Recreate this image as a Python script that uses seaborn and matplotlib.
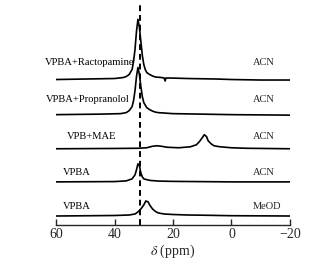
import numpy as np
import pandas as pd
import matplotlib
matplotlib.use("Agg")
import matplotlib.pyplot as plt
import matplotlib.transforms as mtransforms
import seaborn as sns

# Spectra: chemical shift (ppm) and signal height
ract_ppm = [60, 50, 40, 37, 36, 35, 34, 33.5, 33, 32.5, 32, 31.5, 31, 30.5, 30, 29.5, 29, 28, 27, 26, 24, 23, 22.7, 22.4, 21, 15, 5, 0, -10, -20]
ract_int = [0, 0.5, 1, 2, 3, 5, 10, 18, 30, 48, 60, 52, 38, 24, 15, 10, 7, 5, 3.5, 2.5, 2, 1.5, -1.5, 1.5, 1.5, 1, 0.5, 0, -0.5, -0.5]

prop_ppm = [60, 45, 38, 36, 35, 34, 33.5, 33, 32.5, 32, 31.5, 31, 30.5, 30, 29, 28, 27, 26, 25, 20, 10, 0, -20]
prop_int = [0, 0.5, 1, 2, 4, 8, 14, 24, 38, 47, 40, 28, 18, 12, 7, 5, 3.5, 2.5, 2, 1, 0.5, 0, -0.5]

mae_ppm = [60, 40, 32, 29, 27, 25.5, 24, 22, 18, 14, 12, 11, 10, 9.3, 8.5, 8, 7, 6, 4, 0, -5, -20]
mae_int = [0, 0.3, 0.5, 1, 2.5, 3, 2.5, 1.5, 1, 2, 4, 7, 11, 14, 12, 8, 5, 3, 2, 1, 0.5, 0]

acn_ppm = [60, 40, 36, 34, 33, 32.5, 32, 31.5, 31, 30.5, 30, 28, 25, 20, 0, -20]
acn_int = [0, 0.3, 1, 3, 7, 12, 18, 16, 9, 5, 3, 1.5, 0.8, 0.5, 0, 0]

meod_ppm = [60, 40, 35, 33, 32, 31, 30, 29.3, 28.5, 28, 27, 26, 25, 23, 20, 15, 10, 0, -20]
meod_int = [0, 0.5, 1, 2, 4, 7, 11, 15, 14, 11, 7, 4.5, 3, 2, 1.5, 1, 0.8, 0.3, 0]

left_labels = ["VPBA+Ractopamine", "VPBA+Propranolol", "VPB+MAE", "VPBA", "VPBA"]
right_labels = ["ACN", "ACN", "ACN", "ACN", "MeOD"]
ref_shift = 31.3

traces = [(ract_ppm, ract_int), (prop_ppm, prop_int), (mae_ppm, mae_int),
          (acn_ppm, acn_int), (meod_ppm, meod_int)]
offsets = [145, 110, 76, 43, 9]
label_y = [162, 125, 88, 52, 18]
label_x = [0.137, 0.140, 0.204, 0.192, 0.192]

sns.set_style("ticks")
plt.rcParams['font.family'] = ['Liberation Serif', 'DejaVu Serif']
plt.rcParams['mathtext.fontset'] = 'stix'

fig = plt.figure(figsize=(3.28, 2.66), dpi=100)
ax = fig.add_axes([0.171, 0.154, 0.713, 0.83])

for (ppm, inten), off in zip(traces, offsets):
    df = pd.DataFrame({"ppm": ppm, "y": np.array(inten) + off})
    sns.lineplot(data=df, x="ppm", y="y", ax=ax, color="black", lw=1.2, estimator=None)

ax.axvline(ref_shift, color="black", ls=(0, (3, 2)), lw=1.4)

trans = mtransforms.blended_transform_factory(fig.transFigure, ax.transData)
for lab, y, lx in zip(left_labels, label_y, label_x):
    ax.text(lx, y, lab, transform=trans, fontsize=7.6,
            color="black", va="center", ha="left")
for lab, y in zip(right_labels, label_y):
    ax.text(0.772, y, lab, transform=trans, fontsize=7.5,
            color="#222222", va="center", ha="left")

ax.set_xlim(60, -20)
ax.set_ylim(0, 220)
ax.set_xticks([60, 40, 20, 0, -20])
ax.set_xticklabels(["60", "40", "20", "0", "\u221220"])
ax.tick_params(axis="x", direction="in", length=4, width=1, labelsize=10, pad=2)
ax.set_yticks([])
ax.set_ylabel("")
ax.set_xlabel(r"$\delta$ (ppm)", fontsize=10, labelpad=1)
for s in ["left", "top", "right"]:
    ax.spines[s].set_visible(False)
ax.spines["bottom"].set_linewidth(1)

fig.savefig("out.png", dpi=100)
